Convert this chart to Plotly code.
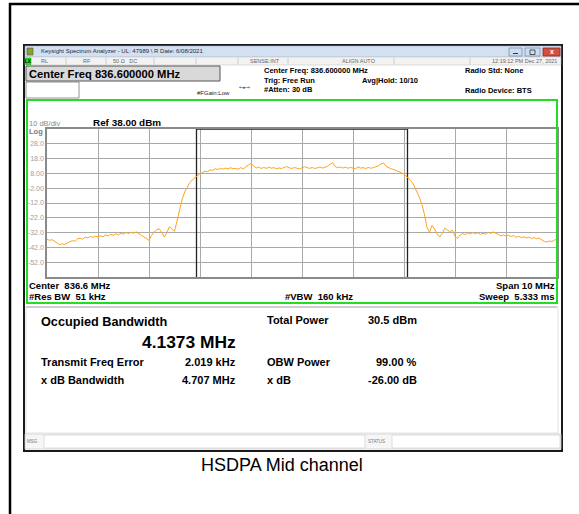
import numpy as np
import plotly.graph_objects as go

# instrument settings / results
center_mhz = 836.6
span_mhz = 10
ref_dbm = 38
db_per_div = 10
obw_mhz = 4.1373

ytick_vals = [28, 18, 8, -2, -12, -22, -32, -42, -52]
ytick_text = ['28.0', '18.0', '8.00', '-2.00', '-12.0', '-22.0', '-32.0', '-42.0', '-52.0']

# trace (dBm), 201 sweep points across the span
trace_dbm = [
    -36.5, -37.2, -36.8, -37.9, -38.9, -40.2, -39.6, -40.0, -38.9, -38.2,
    -37.4, -37.9, -36.2, -35.8, -36.4, -35.1, -35.6, -34.6, -35.2, -34.4,
    -35.0, -34.1, -34.8, -33.5, -34.2, -33.2, -33.9, -32.8, -33.6, -32.5,
    -33.1, -31.9, -32.7, -31.8, -32.4, -31.5, -32.6, -33.4, -34.5, -35.6,
    -37.2, -34.0, -31.5, -30.2, -29.4, -31.8, -35.0, -32.0, -28.0, -29.5,
    -31.2, -24.0, -16.5, -9.5, -4.5, -0.8, 1.8, 3.6, 5.2, 6.4,
    7.8, 8.6, 9.5, 9.2, 10.4, 10.0, 11.2, 10.6, 11.5, 10.9,
    11.6, 11.0, 11.8, 11.2, 11.4, 10.8, 11.9, 11.1, 12.6, 13.8,
    14.6, 13.0, 11.6, 12.4, 11.3, 12.0, 11.4, 12.2, 11.5, 11.9,
    11.0, 11.7, 11.2, 12.1, 12.6, 11.8, 11.3, 12.0, 11.6, 11.0,
    11.8, 12.5, 11.9, 11.4, 12.0, 11.3, 11.8, 12.3, 11.6, 12.2,
    12.8, 14.0, 15.3, 12.6, 11.8, 12.4, 11.6, 12.2, 11.5, 12.0,
    11.7, 11.2, 12.4, 11.6, 11.9, 11.3, 12.0, 11.5, 11.9, 12.5,
    13.2, 14.4, 15.0, 12.8, 11.6, 11.0, 10.6, 10.0, 9.4, 8.4,
    7.6, 6.0, 4.4, 2.6, -0.5, -3.8, -8.0, -13.0, -19.5, -28.5,
    -31.6, -27.2, -29.6, -33.0, -35.0, -32.5, -29.0, -30.2, -31.4, -30.3,
    -34.6, -36.0, -33.6, -32.6, -33.4, -32.2, -33.0, -32.0, -32.8, -32.1,
    -33.2, -32.4, -33.1, -31.8, -32.6, -31.5, -32.4, -33.5, -34.2, -33.6,
    -34.4, -33.8, -34.6, -34.0, -35.2, -34.5, -35.4, -34.8, -35.6, -35.0,
    -36.0, -35.4, -36.2, -35.7, -37.0, -38.0, -38.4, -37.6, -38.1, -37.0,
    -36.6,
]

results_left = [('Transmit Freq Error', '2.019 kHz'), ('x dB Bandwidth', '4.707 MHz')]
results_right = [('Total Power', '30.5 dBm'), ('OBW Power', '99.00 %'), ('x dB', '-26.00 dB')]

W, H = 579, 514
FONT = 'Liberation Sans, Arial, sans-serif'

f_lo = center_mhz - span_mhz / 2
f_hi = center_mhz + span_mhz / 2
freqs = np.linspace(f_lo, f_hi, len(trace_dbm))


def X(p):
    return p / W


def Y(p):
    return 1 - p / H


shapes = []
annos = []


def box(x0, y0, x1, y1, color='#000', width=1, fill=None, layer='above'):
    shapes.append(dict(type='rect', xref='paper', yref='paper', x0=X(x0), x1=X(x1), y0=Y(y1), y1=Y(y0),
                       line=dict(color=color, width=width), fillcolor=fill, layer=layer))


def seg(x0, y0, x1, y1, color='#000', width=1):
    shapes.append(dict(type='line', xref='paper', yref='paper', x0=X(x0), x1=X(x1), y0=Y(y0), y1=Y(y1),
                       line=dict(color=color, width=width)))


def txt(x, y, s, size=8, color='#000', bold=True, anchor='left', family=FONT):
    annos.append(dict(xref='paper', yref='paper', x=X(x), y=Y(y), text='<b>%s</b>' % s if bold else s,
                      showarrow=False, xanchor=anchor, yanchor='middle', borderpad=0,
                      font=dict(family=family, size=size, color=color)))


# outer page frame
seg(9, 4, 579, 4, '#000', 2.5)
seg(10, 3, 10, 514, '#000', 2.5)

# analyzer window
box(24, 45, 562, 451, '#1a1a1a', 2, 'white', 'below')
box(25, 46, 561, 57, '#9fb4cf', 0.5, '#d3e0f1', 'below')
box(25, 57, 561, 65, '#bcbcbc', 0.5, '#f2f2f2', 'below')
box(25.5, 58, 31, 64.5, '#0a0', 0.5, '#22dd22')
for sx in [66, 106, 154, 196, 238, 288, 394, 470]:
    seg(sx, 57.5, sx, 64.5, '#c4c4c4', 0.8)
# window buttons
box(509, 48, 522, 56, '#7f93b2', 0.8, '#cfdcef')
box(525, 48, 540, 56, '#7f93b2', 0.8, '#cfdcef')
box(543, 48, 560, 56, '#8a2a20', 0.8, '#d4503c')
seg(513, 53.5, 518, 53.5, '#333', 1)
box(530, 50, 535, 54.5, '#333', 0.8)
txt(551.5, 52, 'x', 7, 'white', True, 'center')
box(27, 48, 33, 55, '#4d5d2a', 0.6, '#8a9d3c')

box(26, 66, 220, 81, '#555', 1, '#d9d9d9')
box(26, 82, 79, 98, '#777', 0.8, 'white')

# measurement area
box(27, 100, 557, 303, '#22dd22', 2)
seg(26, 307, 557, 307, '#8c8c8c', 1.2)
box(26, 307, 558, 433, '#dcdcdc', 0.8)
box(25, 434, 561, 449, '#d0d0d0', 0.8, '#f6f6f6', 'below')
box(44, 435, 365, 448, '#d6d6d6', 0.8, 'white')
box(392, 435, 560, 448, '#d6d6d6', 0.8, 'white')

# OBW markers
obw_lo = center_mhz - obw_mhz / 2
obw_hi = center_mhz + obw_mhz / 2
for fx in [obw_lo, obw_hi]:
    shapes.append(dict(type='line', xref='x', yref='y', x0=fx, x1=fx, y0=ref_dbm - 10 * db_per_div, y1=ref_dbm,
                       line=dict(color='#222', width=1.3), layer='between'))
shapes.append(dict(type='line', xref='x', yref='y', x0=obw_lo, x1=obw_hi, y0=ref_dbm, y1=ref_dbm,
                   line=dict(color='#222', width=1.5), layer='above'))

# header text
txt(40, 51.5, 'Keysight Spectrum Analyzer - UL: 47989 \\ R Date: 6/08/2021', 6, '#1e2a3a', False)
txt(28.3, 61.3, 'LX', 4.5, '#000', True, 'center')
txt(40, 61.3, 'RL', 5.5, '#666', False)
txt(82, 61.3, 'RF', 5.5, '#666', False)
txt(112, 61.3, '50 Ω   DC', 5.5, '#666', False)
txt(249, 61.3, 'SENSE:INT', 5.5, '#666', False)
txt(341, 61.3, 'ALIGN AUTO', 5.5, '#666', False)
txt(558, 61.3, '12:19:12 PM Dec 27, 2021', 5.5, '#666', False, 'right')

txt(28, 74, 'Center Freq %.6f MHz' % center_mhz, 11.2)
txt(263, 71, 'Center Freq: %.6f MHz' % center_mhz, 7.5)
txt(263, 80, 'Trig: Free Run', 7.5)
txt(263, 89, '#Atten: 30 dB', 7.5)
txt(361, 80, 'Avg|Hold: 10/10', 7.5)
txt(464, 71, 'Radio Std: None', 7.5)
txt(464, 90, 'Radio Device: BTS', 7.5)
txt(196, 93, '#FGain:Low', 6, '#222', False)
txt(238, 87, '←▸→', 5, '#444', False, 'left', 'DejaVu Sans')

txt(28, 123, '10 dB/div', 7.5, '#8a8a8a', False)
txt(28, 131, 'Log', 7.5, '#7a7a7a', True)
txt(92, 122, 'Ref %.2f dBm' % ref_dbm, 9.9)

txt(28, 285, 'Center  %.1f MHz' % center_mhz, 9.5)
txt(28, 296, '#Res BW  51 kHz', 9.5)
txt(284, 296, '#VBW  160 kHz', 9.5)
txt(556, 285, 'Span %d MHz' % span_mhz, 9.5, '#000', True, 'right')
txt(556, 296, 'Sweep  5.333 ms', 9.5, '#000', True, 'right')

# results panel
txt(40, 322, 'Occupied Bandwidth', 12.7)
txt(237, 342, '%.4f MHz' % obw_mhz, 17.4, '#000', True, 'right')
for i, (k, v) in enumerate(results_left):
    txt(40, 362 + 18 * i, k, 11)
    txt(237, 362 + 18 * i, v, 11, '#000', True, 'right')
for i, (k, v) in enumerate(results_right):
    yy = 320 if i == 0 else 362 + 18 * (i - 1)
    txt(266, yy, k, 11)
    txt(418, yy, v, 11, '#000', True, 'right')

txt(26, 441.5, 'MSG', 4.5, '#777', False)
txt(367, 441.5, 'STATUS', 4.5, '#777', False)

txt(282, 465, 'HSDPA Mid channel', 18, '#000', False, 'center')

fig = go.Figure()
fig.add_trace(go.Scatter(x=freqs, y=trace_dbm, mode='lines',
                         line=dict(color='#ffa31a', width=1), hoverinfo='skip'))

fig.update_layout(
    width=W, height=H,
    margin=dict(l=0, r=0, t=0, b=0),
    paper_bgcolor='white', plot_bgcolor='white',
    showlegend=False,
    shapes=shapes, annotations=annos,
    xaxis=dict(domain=[X(47), X(557)], range=[f_lo, f_hi],
               tickvals=[f_lo + k for k in range(1, span_mhz)], showticklabels=False, ticks='',
               showgrid=True, gridcolor='#a9a9a9', gridwidth=1, zeroline=False,
               showline=True, mirror=True, linecolor='#8a8a8a', linewidth=1.5),
    yaxis=dict(domain=[Y(277), Y(129)], range=[ref_dbm - 10 * db_per_div, ref_dbm],
               tickvals=ytick_vals, ticktext=ytick_text, ticks='',
               tickfont=dict(family=FONT, size=7, color='#a0a0a0'),
               showgrid=True, gridcolor='#a9a9a9', gridwidth=1, zeroline=False,
               showline=True, mirror=True, linecolor='#8a8a8a', linewidth=1.5),
)

# page body has an 8px default margin; drop it so the figure sits at the window origin
fig.write_html("out.html", config={'displayModeBar': False},
               post_script="document.body.style.margin='0';")
